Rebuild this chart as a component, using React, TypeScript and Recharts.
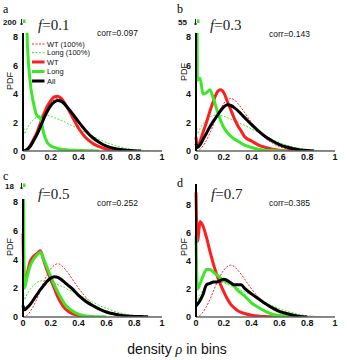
import React from 'react';
import { LineChart, Line, XAxis, YAxis } from 'recharts';

// shared density grid (rho in bins)
const rho = [0, 0.01, 0.03, 0.05, 0.075, 0.1, 0.125, 0.15, 0.175, 0.2, 0.225, 0.25, 0.275, 0.3, 0.325, 0.35, 0.4, 0.45, 0.5, 0.55, 0.6, 0.65, 0.7, 0.75, 0.8, 0.85, 0.9, 0.95, 1];

// reference curves (100%) - same in every panel
const wt100 = [0, 0.02, 0.12, 0.35, 0.75, 1.25, 1.85, 2.45, 2.95, 3.35, 3.6, 3.7, 3.6, 3.35, 3.05, 2.7, 2.0, 1.4, 0.9, 0.55, 0.3, 0.16, 0.08, 0.04, 0.02, 0.01, 0, null, null];
const long100 = [2.6, 1.2, 1.6, 1.9, 2.2, 2.4, 2.5, 2.55, 2.5, 2.45, 2.35, 2.25, 2.15, 2.05, 1.9, 1.8, 1.55, 1.3, 1.05, 0.8, 0.6, 0.42, 0.28, 0.17, 0.1, 0.05, 0.02, 0.01, 0];

// f = 0.1
const wtA = [0, 0.02, 0.12, 0.35, 0.8, 1.3, 1.95, 2.6, 3.15, 3.55, 3.8, 3.85, 3.7, 3.35, 2.95, 2.5, 1.6, 0.95, 0.55, 0.3, 0.12, 0.03, 0, null, null, null, null, null, null];
const longA = [200, 30, 8.0, 5.0, 3.4, 2.5, 2.3, 1.2, 0.6, 0.35, 0.25, 0.18, 0.13, 0.1, 0.07, 0.05, 0.04, 0.02, 0.01, 0, null, null, null, null, null, null, null, null, null];
const allA = [0, 0.02, 0.1, 0.3, 0.7, 1.15, 1.7, 2.3, 2.8, 3.2, 3.45, 3.55, 3.5, 3.3, 3.0, 2.7, 2.05, 1.45, 0.95, 0.6, 0.35, 0.2, 0.1, 0.05, 0.02, 0, null, null, null];

// f = 0.3
const wtB = [1.0, 0.3, 0.7, 1.3, 2.0, 2.8, 3.5, 4.1, 4.3, 4.1, 3.5, 2.9, 2.3, 1.8, 1.4, 1.0, 0.7, 0.42, 0.25, 0.12, 0.05, 0.02, 0, null, null, null, null, null, null];
const longB = [55, 5.0, 5.1, 4.0, 4.1, 4.3, 3.7, 2.9, 2.2, 1.65, 1.3, 1.05, 0.85, 0.7, 0.55, 0.42, 0.25, 0.13, 0.06, 0.03, 0.01, 0, null, null, null, null, null, null, null];
const allB = [0.5, 0.25, 0.45, 0.8, 1.25, 1.7, 2.1, 2.45, 2.8, 3.1, 3.25, 3.2, 3.05, 2.85, 2.6, 2.35, 1.85, 1.4, 1.0, 0.7, 0.45, 0.28, 0.16, 0.08, 0.03, 0, null, null, null];

// f = 0.5
const wtC = [5.8, 2.3, 3.0, 3.8, 4.2, 4.4, 4.6, 3.9, 3.2, 2.6, 2.0, 1.4, 0.95, 0.6, 0.4, 0.25, 0.1, 0.03, 0, null, null, null, null, null, null, null, null, null, null];
const longC = [18, 2.0, 2.8, 3.5, 4.0, 4.3, 4.5, 4.0, 3.4, 2.8, 2.25, 1.75, 1.3, 0.9, 0.65, 0.45, 0.2, 0.07, 0.03, 0.01, 0, null, null, null, null, null, null, null, null];
const allC = [0.8, 0.5, 0.65, 0.85, 1.2, 1.55, 1.9, 2.2, 2.5, 2.7, 2.8, 2.75, 2.6, 2.4, 2.2, 2.0, 1.5, 1.1, 0.8, 0.55, 0.35, 0.22, 0.13, 0.07, 0.04, 0.03, 0.02, null, null];

// f = 0.7
const wtD = [8.9, 5.4, 6.8, 6.5, 5.7, 4.7, 3.8, 3.0, 2.35, 1.8, 1.3, 0.9, 0.65, 0.45, 0.33, 0.25, 0.12, 0.06, 0.03, 0.01, 0, null, null, null, null, null, null, null, null];
const longD = [5.8, 2.0, 2.4, 2.9, 3.4, 3.4, 3.2, 3.0, 2.8, 2.6, 2.5, 2.4, 2.2, 1.9, 1.7, 1.5, 1.0, 0.68, 0.4, 0.2, 0.1, 0.05, 0.02, 0, null, null, null, null, null];
const allD = [0.8, 0.9, 1.2, 1.6, 2.3, 2.4, 2.5, 2.5, 2.6, 2.7, 2.6, 2.45, 2.3, 2.3, 2.3, 2.05, 1.65, 1.3, 0.95, 0.65, 0.4, 0.25, 0.12, 0.03, 0, null, null, null, null];

const panelLetters = ['a', 'b', 'c', 'd'];
const fValues = ['0.1', '0.3', '0.5', '0.7'];
const corrLabels = ['corr=0.097', 'corr=0.143', 'corr=0.252', 'corr=0.385'];
const breakLabels = ['200', '55', '18', ''];
const xTicks = [0, 0.2, 0.4, 0.6, 0.8, 1];
const yTicks = [0, 2, 4, 6, 8];
const legendNames = ['WT (100%)', 'Long (100%)', 'WT', 'Long', 'All'];

const RED = '#ff1e1e';
const GREEN = '#3ee62a';
const SANS = '"Liberation Sans", Arial, sans-serif';
const SERIF = '"Liberation Serif", "Times New Roman", serif';

const buildRows = (wt: (number | null)[], long: (number | null)[], all: (number | null)[]) =>
  rho.map((x, i) => ({ x, wt100: wt100[i], long100: long100[i], wt: wt[i], long: long[i], all: all[i] }));

const panels = [
  { left: 0, top: 0, yAxisW: 23, plotTop: 33, plotH: 118, yMax: 8.3, rows: buildRows(wtA, longA, allA) },
  { left: 174, top: 0, yAxisW: 22, plotTop: 33, plotH: 118, yMax: 8.3, rows: buildRows(wtB, longB, allB) },
  { left: 0, top: 170, yAxisW: 23, plotTop: 29, plotH: 118, yMax: 8.2, rows: buildRows(wtC, longC, allC) },
  { left: 174, top: 170, yAxisW: 22, plotTop: 14, plotH: 133, yMax: 9.5, rows: buildRows(wtD, longD, allD) },
];

const tickStyle = { fontSize: 9, fill: '#111', fontFamily: SANS, fontWeight: 600 };

const Panel = ({ p }: { p: (typeof panels)[number] }) => (
  <div style={{ position: 'absolute', left: p.left, top: p.top }}>
    <LineChart
      width={174}
      height={p.plotTop + p.plotH + 20}
      data={p.rows}
      margin={{ top: p.plotTop, left: 0, right: 174 - p.yAxisW - 139, bottom: 0 }}
    >
      <XAxis
        type="number"
        dataKey="x"
        domain={[0, 1]}
        ticks={xTicks}
        height={20}
        tickLine={false}
        tickSize={0}
        tickMargin={3}
        axisLine={{ stroke: '#666', strokeWidth: 1.5 }}
        tick={tickStyle}
      />
      <YAxis
        type="number"
        domain={[0, p.yMax]}
        ticks={yTicks}
        allowDataOverflow
        width={p.yAxisW}
        tickLine={false}
        tickSize={0}
        tickMargin={5}
        axisLine={{ stroke: '#000', strokeWidth: 2 }}
        tick={tickStyle}
      />
      <Line dataKey="wt100" type="monotone" stroke={RED} strokeWidth={1} strokeDasharray="2 1.5" dot={false} isAnimationActive={false} />
      <Line dataKey="long100" type="monotone" stroke={GREEN} strokeWidth={1} strokeDasharray="2 1.5" dot={false} isAnimationActive={false} />
      <Line dataKey="wt" type="monotone" stroke={RED} strokeWidth={3} dot={false} isAnimationActive={false} />
      <Line dataKey="long" type="monotone" stroke={GREEN} strokeWidth={3} dot={false} isAnimationActive={false} />
      <Line dataKey="all" type="monotone" stroke="#000" strokeWidth={3} dot={false} isAnimationActive={false} />
    </LineChart>
  </div>
);

// positions of the per-panel texts
const letterPos = [[3, 13], [177, 13], [3, 180], [177, 187]];
const fPos = [[38, 30], [210, 30], [38, 199], [211, 199]];
const corrPos = [[97, 35.5], [269, 36.5], [97, 205.5], [269, 205.5]];
const pdfPos = [[10, 81], [184, 72], [10, 247], [184, 247]];
const breakPos = [[3, 25, 21.5], [178, 25, 195.5], [5, 189, 21.5]];

const legendStyles = [
  { stroke: RED, w: 1, dash: '2 1.5' },
  { stroke: GREEN, w: 1, dash: '2 1.5' },
  { stroke: RED, w: 3, dash: undefined },
  { stroke: GREEN, w: 3, dash: undefined },
  { stroke: '#000', w: 3, dash: undefined },
];
const legendY = [44, 52.7, 62, 71.5, 81];

export default function App() {
  return (
    <div style={{ position: 'absolute', left: 0, top: 0, width: 348, height: 360, background: '#fff' }}>
      {panels.map((p, i) => (
        <Panel key={i} p={p} />
      ))}
      <svg width={348} height={360} style={{ position: 'absolute', left: 0, top: 0, pointerEvents: 'none' }}>
        {panelLetters.map((l, i) => (
          <text key={l} x={letterPos[i][0]} y={letterPos[i][1]} fontFamily={SERIF} fontSize={12}>
            {l}
          </text>
        ))}
        {fValues.map((f, i) => (
          <text key={f} x={fPos[i][0]} y={fPos[i][1]} fontFamily={SERIF} fontSize={15} fill="#222">
            <tspan fontStyle="italic">f</tspan>={f}
          </text>
        ))}
        {corrLabels.map((c, i) => (
          <text key={c} x={corrPos[i][0]} y={corrPos[i][1]} fontFamily={SANS} fontSize={8.5} fill="#111">
            {c}
          </text>
        ))}
        {pdfPos.map(([x, y], i) => (
          <text
            key={i}
            x={x}
            y={y}
            transform={`rotate(-90 ${x} ${y})`}
            textAnchor="middle"
            dominantBaseline="central"
            fontFamily={SANS}
            fontSize={9}
            fill="#111"
          >
            PDF
          </text>
        ))}
        {breakPos.map(([x, y, ax], i) => (
          <g key={i}>
            <text x={x} y={y} fontFamily={SANS} fontSize={8} fontWeight={700} fill="#111">
              {breakLabels[i]}
            </text>
            <line x1={ax} x2={ax} y1={y - 6} y2={y} stroke="#222" strokeWidth={1} />
            <line x1={ax - 1.5} x2={ax + 1.5} y1={y - 1} y2={y - 1} stroke="#222" strokeWidth={1} />
            <rect x={ax + 1.5} y={y - 5.5} width={2.5} height={3.5} fill={GREEN} />
          </g>
        ))}
        {/* legend of panel a */}
        {legendNames.map((n, i) => (
          <g key={n}>
            <line
              x1={32}
              x2={44.5}
              y1={legendY[i]}
              y2={legendY[i]}
              stroke={legendStyles[i].stroke}
              strokeWidth={legendStyles[i].w}
              strokeDasharray={legendStyles[i].dash}
            />
            <text x={47} y={legendY[i]} dominantBaseline="central" fontFamily={SANS} fontSize={7.5} fill="#111">
              {n}
            </text>
          </g>
        ))}
        <text x={177} y={354} textAnchor="middle" fontFamily={SANS} fontSize={14} fill="#111">
          density <tspan fontFamily={SERIF} fontStyle="italic">ρ</tspan> in bins
        </text>
      </svg>
    </div>
  );
}
